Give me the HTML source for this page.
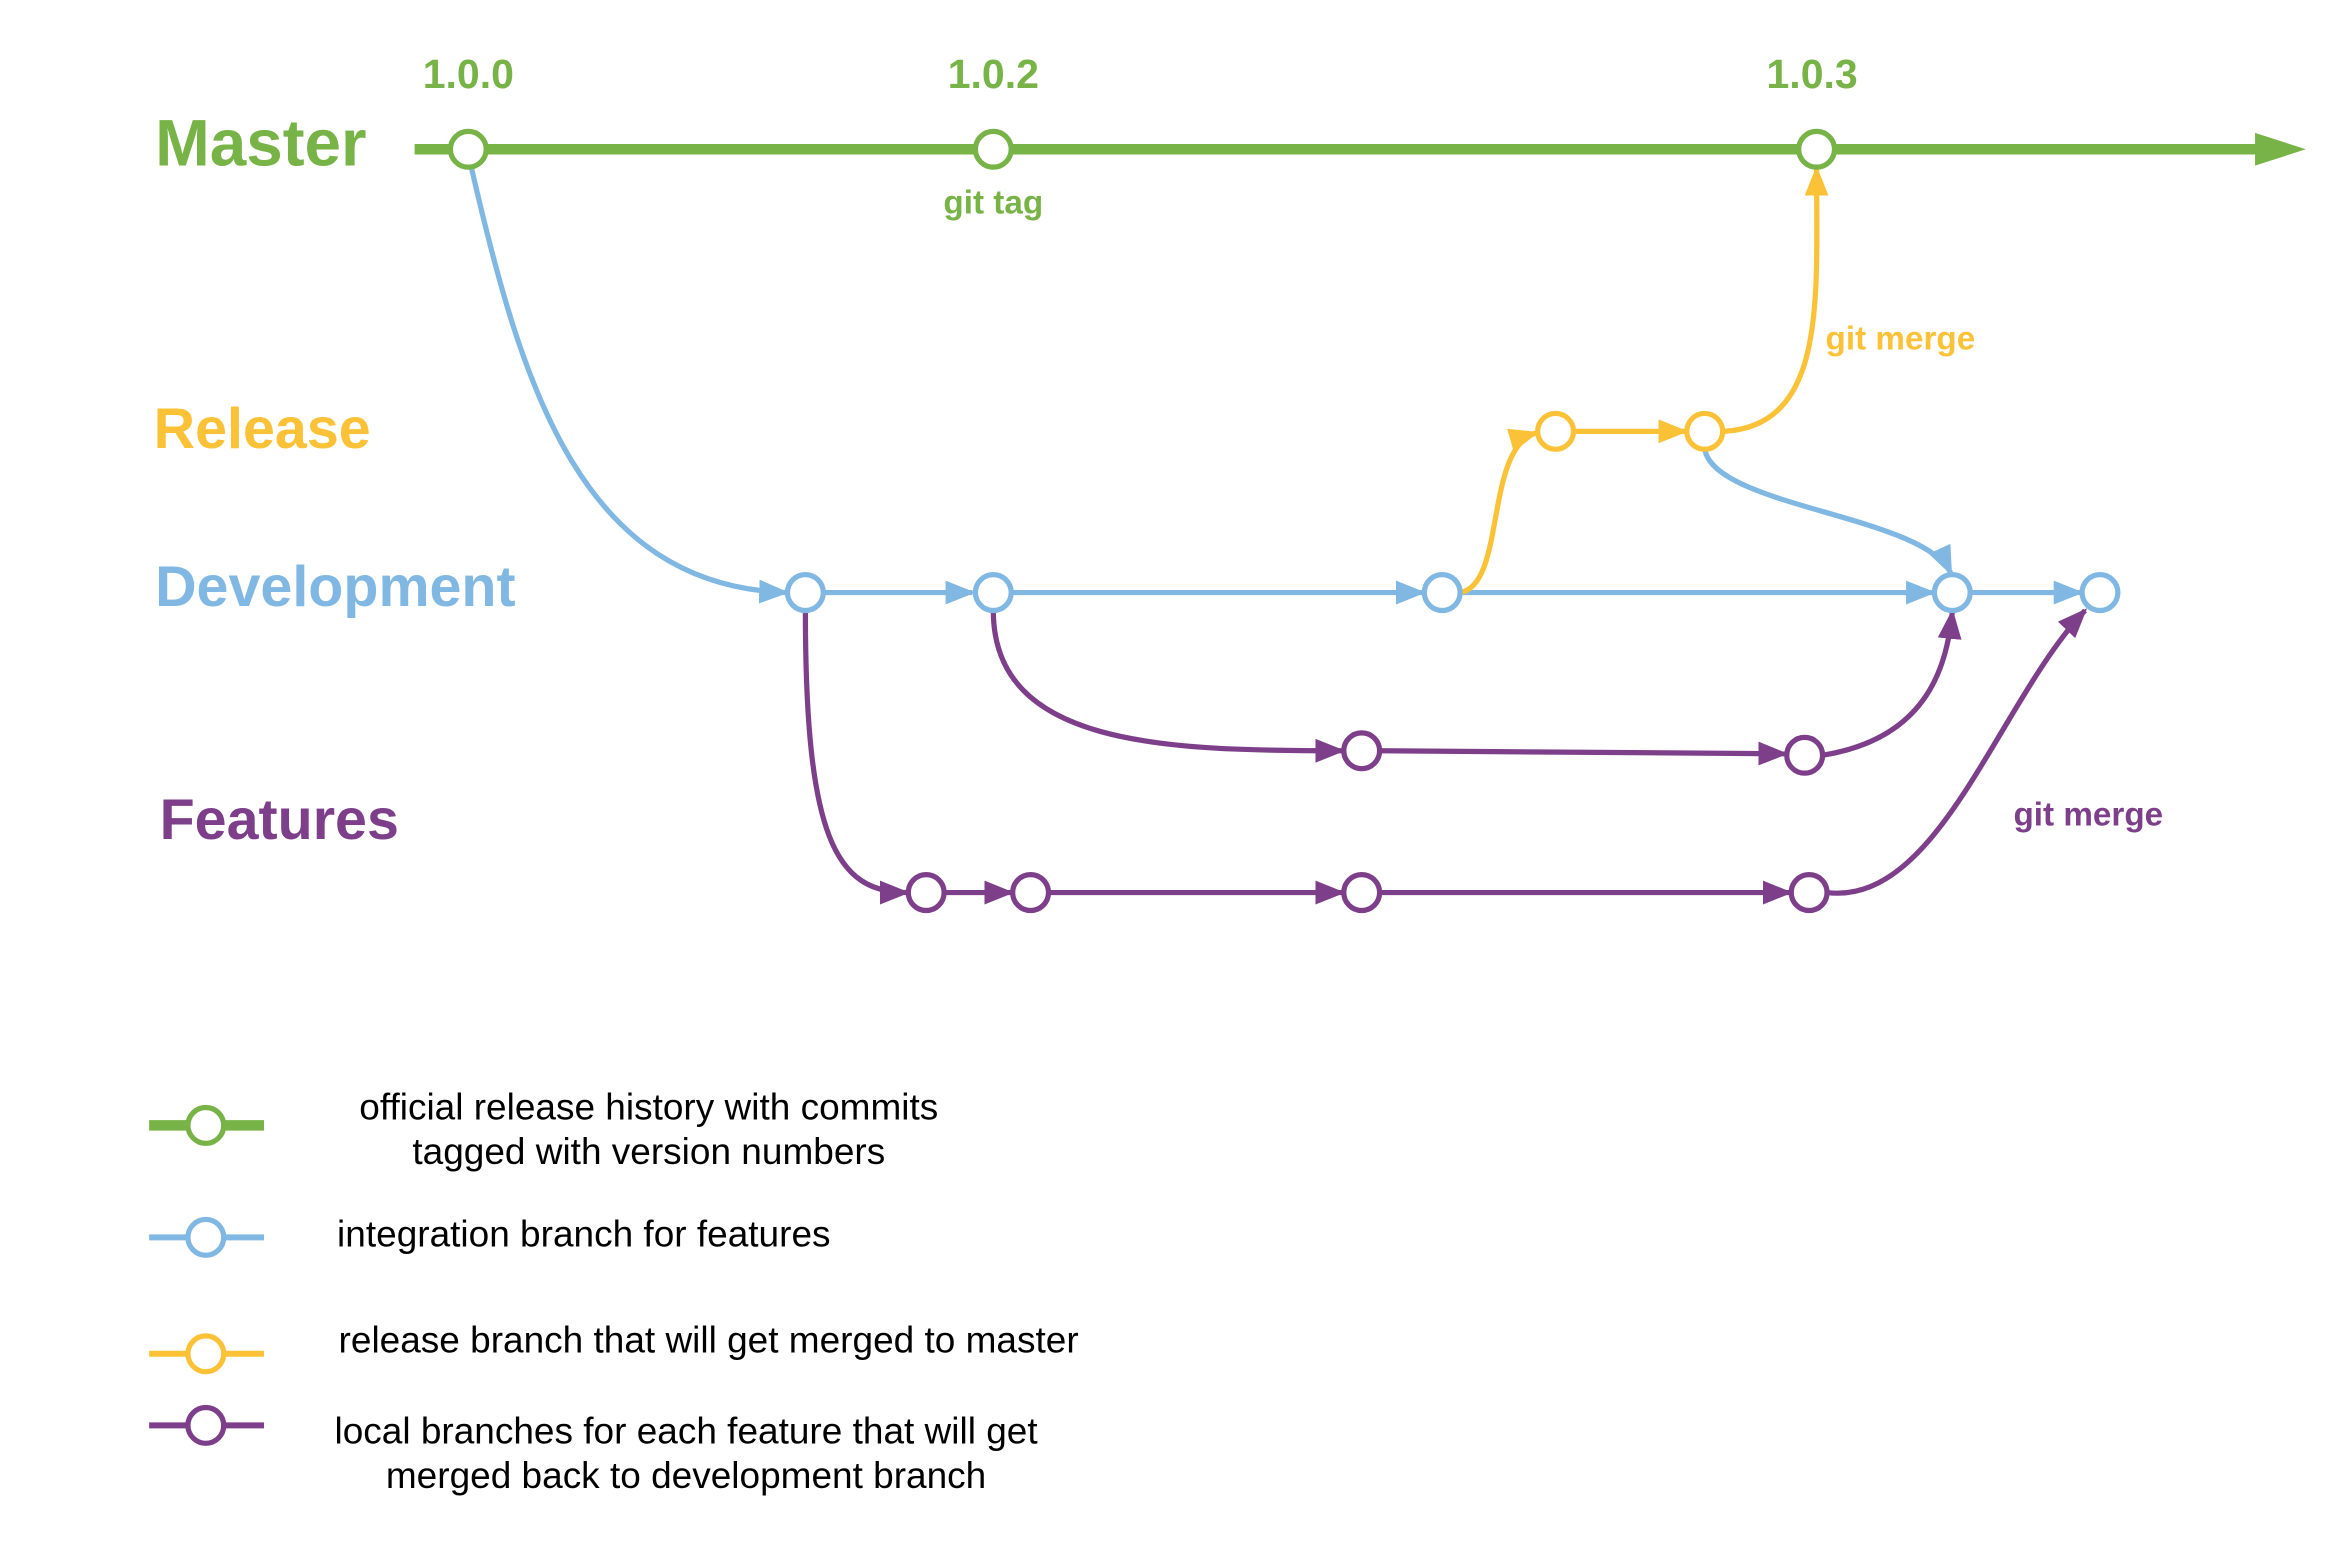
<!DOCTYPE html>
<html><head><meta charset="utf-8"><style>
html,body{margin:0;padding:0;background:#fff;}
svg{display:block;}
text{font-family:"Liberation Sans",Arial,sans-serif;}
</style></head><body>
<svg width="2338" height="1559" viewBox="0 0 1567.6 1044.5" preserveAspectRatio="none" xmlns="http://www.w3.org/2000/svg">
<defs>
<marker id="AB" markerWidth="20" markerHeight="16" refX="18" refY="8" orient="auto" markerUnits="userSpaceOnUse"><path d="M0,0 L20,8 L0,16z" fill="#80b8e3"/></marker>
<marker id="AY" markerWidth="20" markerHeight="16" refX="18" refY="8" orient="auto" markerUnits="userSpaceOnUse"><path d="M0,0 L20,8 L0,16z" fill="#fbc238"/></marker>
<marker id="AP" markerWidth="20" markerHeight="16" refX="18" refY="8" orient="auto" markerUnits="userSpaceOnUse"><path d="M0,0 L20,8 L0,16z" fill="#7d3f8a"/></marker>
</defs>
<style>
.b{stroke:#80b8e3;stroke-width:3.5;fill:none}
.y{stroke:#fbc238;stroke-width:3.5;fill:none}
.p{stroke:#7d3f8a;stroke-width:3.5;fill:none}
</style>

<line x1="278" y1="100" x2="1515" y2="100" stroke="#77b347" stroke-width="7"/>
<path d="M1512,89 L1546,100 L1512,111z" fill="#77b347"/>
<text x="104" y="111" font-size="44" font-weight="bold" fill="#77b347">Master</text>
<text x="314" y="59" font-size="27.5" font-weight="bold" fill="#77b347" text-anchor="middle">1.0.0</text>
<text x="666" y="59" font-size="27.5" font-weight="bold" fill="#77b347" text-anchor="middle">1.0.2</text>
<text x="1215" y="59" font-size="27.5" font-weight="bold" fill="#77b347" text-anchor="middle">1.0.3</text>
<text x="666" y="143" font-size="22.3" font-weight="bold" fill="#77b347" text-anchor="middle">git tag</text>

<text x="103" y="300" font-size="38.5" font-weight="bold" fill="#fbc238">Release</text>
<text x="104" y="406" font-size="38.5" font-weight="bold" fill="#80b8e3">Development</text>
<text x="107" y="562" font-size="38.5" font-weight="bold" fill="#7d3f8a">Features</text>
<text x="1224" y="234" font-size="22.3" font-weight="bold" fill="#fbc238">git merge</text>
<text x="1350" y="553" font-size="22.3" font-weight="bold" fill="#7d3f8a">git merge</text>

<path class="b" d="M316,112 C350,260 390,392 527,397" marker-end="url(#AB)"/>
<line class="b" x1="552" y1="397" x2="652" y2="397" marker-end="url(#AB)"/>
<line class="b" x1="678" y1="397" x2="954" y2="397" marker-end="url(#AB)"/>
<line class="b" x1="979" y1="397" x2="1296" y2="397" marker-end="url(#AB)"/>
<line class="b" x1="1321" y1="397" x2="1395" y2="397" marker-end="url(#AB)"/>
<path class="b" d="M1143,301 C1150,340 1290,345 1308,384" marker-end="url(#AB)"/>

<path class="y" d="M979,397 C1010,392 995,300 1030,290" marker-end="url(#AY)"/>
<line class="y" x1="1055" y1="289" x2="1130" y2="289" marker-end="url(#AY)"/>
<path class="y" d="M1156,289 C1225,285 1218,200 1218,113" marker-end="url(#AY)"/>

<path class="p" d="M666,409 C666,500 780,503 900,503" marker-end="url(#AP)"/>
<line class="p" x1="925" y1="503" x2="1197" y2="505" marker-end="url(#AP)"/>
<path class="p" d="M1222,506 C1290,495 1305,450 1309,410" marker-end="url(#AP)"/>
<path class="p" d="M540,409 C540,560 560,598 608,598" marker-end="url(#AP)"/>
<line class="p" x1="633" y1="598" x2="678" y2="598" marker-end="url(#AP)"/>
<line class="p" x1="703" y1="598" x2="900" y2="598" marker-end="url(#AP)"/>
<line class="p" x1="925" y1="598" x2="1200" y2="598" marker-end="url(#AP)"/>
<path class="p" d="M1225,598 C1300,607 1340,470 1398,409" marker-end="url(#AP)"/>

<g fill="#fff" stroke-width="3.5">
<g stroke="#77b347"><circle cx="314" cy="100" r="12"/><circle cx="666" cy="100" r="12"/><circle cx="1218" cy="100" r="12"/></g>
<g stroke="#fbc238"><circle cx="1043" cy="289" r="12"/><circle cx="1143" cy="289" r="12"/></g>
<g stroke="#80b8e3"><circle cx="540" cy="397" r="12"/><circle cx="666" cy="397" r="12"/><circle cx="967" cy="397" r="12"/><circle cx="1309" cy="397" r="12"/><circle cx="1408" cy="397" r="12"/></g>
<g stroke="#7d3f8a"><circle cx="913" cy="503" r="12"/><circle cx="1210" cy="506" r="12"/><circle cx="621" cy="598" r="12"/><circle cx="691" cy="598" r="12"/><circle cx="913" cy="598" r="12"/><circle cx="1213" cy="598" r="12"/></g>
</g>

<line x1="100" y1="754" x2="177" y2="754" stroke="#77b347" stroke-width="7"/>
<circle cx="138" cy="754" r="12" fill="#fff" stroke="#77b347" stroke-width="3.5"/>
<line x1="100" y1="829" x2="177" y2="829" stroke="#80b8e3" stroke-width="4"/>
<circle cx="138" cy="829" r="12" fill="#fff" stroke="#80b8e3" stroke-width="3.5"/>
<line x1="100" y1="907" x2="177" y2="907" stroke="#fbc238" stroke-width="4"/>
<circle cx="138" cy="907" r="12" fill="#fff" stroke="#fbc238" stroke-width="3.5"/>
<line x1="100" y1="955" x2="177" y2="955" stroke="#7d3f8a" stroke-width="4"/>
<circle cx="138" cy="955" r="12" fill="#fff" stroke="#7d3f8a" stroke-width="3.5"/>

<g font-size="24.8" fill="#000">
<text x="435" y="750" text-anchor="middle">official release history with commits</text>
<text x="435" y="780" text-anchor="middle">tagged with version numbers</text>
<text x="226" y="835">integration branch for features</text>
<text x="227" y="906">release branch that will get merged to master</text>
<text x="460" y="967" text-anchor="middle">local branches for each feature that will get</text>
<text x="460" y="997" text-anchor="middle">merged back to development branch</text>
</g>
</svg>
</body></html>
